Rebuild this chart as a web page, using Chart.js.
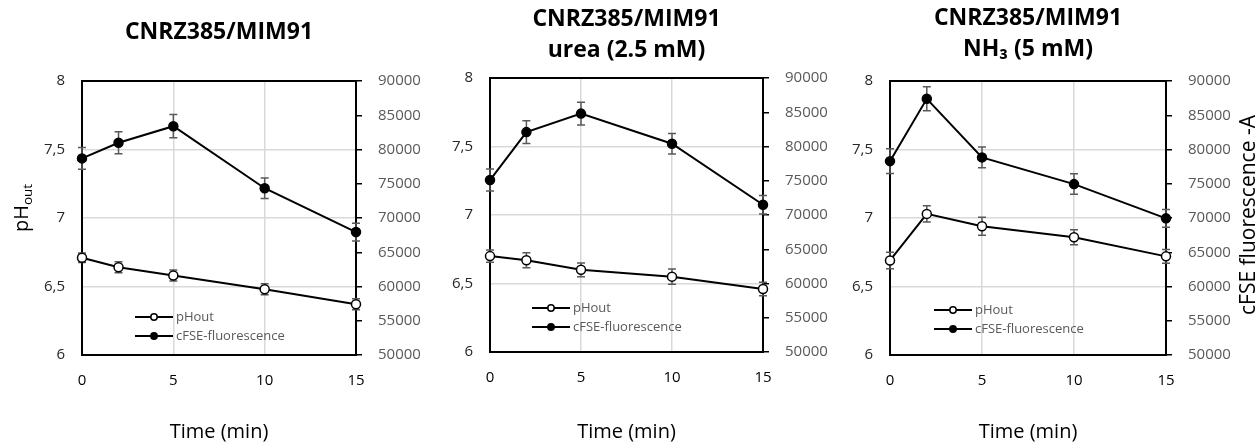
<!DOCTYPE html>
<html>
<head>
<meta charset="utf-8">
<script src="https://cdn.jsdelivr.net/npm/chart.js@4.4.1/dist/chart.umd.min.js"></script>
<style>
  html, body { margin: 0; padding: 0; background: #fff; }
  #wrap { position: relative; width: 1258px; height: 448px; }
  #wrap canvas { position: absolute; top: 0; }
</style>
</head>
<body>
<div id="wrap">
  <canvas id="c1" width="420" height="448" style="left:0"></canvas>
  <canvas id="c2" width="420" height="448" style="left:420px"></canvas>
  <canvas id="c3" width="420" height="448" style="left:838px"></canvas>
</div>
<script>
// time points (min)
const times = [0, 2, 5, 10, 15];
const xTicks = [0, 5, 10, 15];

// CNRZ385/MIM91
const ph1 = [6.71, 6.64, 6.58, 6.48, 6.37];
const ph1Err = [0.035, 0.04, 0.04, 0.04, 0.04];
const fl1 = [78700, 80980, 83400, 74350, 67950];
const fl1Err = [1600, 1600, 1700, 1500, 1300];

// CNRZ385/MIM91 urea (2.5 mM)
const ph2 = [6.70, 6.67, 6.60, 6.55, 6.46];
const ph2Err = [0.045, 0.055, 0.05, 0.055, 0.05];
const fl2 = [75100, 82100, 84800, 80400, 71500];
const fl2Err = [1600, 1650, 1650, 1500, 1350];

// CNRZ385/MIM91 NH3 (5 mM)
const ph3 = [6.69, 7.03, 6.94, 6.86, 6.72];
const ph3Err = [0.06, 0.06, 0.065, 0.055, 0.05];
const fl3 = [78300, 87400, 78850, 74950, 69950];
const fl3Err = [1800, 1750, 1500, 1500, 1300];

Chart.defaults.font.family = "'Open Sans', 'DejaVu Sans', sans-serif";
Chart.defaults.animation = false;

const seriesNames = ['pHout', 'cFSE-fluorescence'];

const panels = [
  { id: 'c1', title: 'CNRZ385/MIM91', ph: ph1, phErr: ph1Err, fl: fl1, flErr: fl1Err,
    leftW: 82, rightW: 64, bottomH: 93, titlePad: { top: 16.5, bottom: 33.5 },
    legend: { x: 53, y: -38 }, leftTitle: true, rightTitle: false },
  { id: 'c2', title: ['CNRZ385/MIM91', 'urea (2.5 mM)'], ph: ph2, phErr: ph2Err, fl: fl2, flErr: fl2Err,
    leftW: 70, rightW: 77, bottomH: 96, titlePad: { top: 3.5, bottom: 12.5 },
    legend: { x: 42, y: -44 }, leftTitle: false, rightTitle: false },
  { id: 'c3', title: ['CNRZ385/MIM91', 'NH\u2083 (5 mM)'], ph: ph3, phErr: ph3Err, fl: fl3, flErr: fl3Err,
    leftW: 52, rightW: 92, bottomH: 93, titlePad: { top: 2.5, bottom: 16.5 },
    legend: { x: 44, y: -45 }, leftTitle: false, rightTitle: true }
];

// frame round the plot area
const frame = {
  id: 'frame',
  beforeDatasetsDraw(chart) {
    const { ctx, chartArea: a } = chart;
    ctx.save();
    ctx.strokeStyle = '#000';
    ctx.lineWidth = 2;
    ctx.strokeRect(a.left, a.top, a.right - a.left, a.bottom - a.top);
    ctx.restore();
  }
};

// error bars from dataset.errors
const errorBars = {
  id: 'errorBars',
  beforeDatasetsDraw(chart) {
    const ctx = chart.ctx;
    ctx.save();
    ctx.strokeStyle = '#595959';
    ctx.lineWidth = 1.5;
    chart.data.datasets.forEach((ds) => {
      const ys = chart.scales[ds.yAxisID];
      const xs = chart.scales.x;
      ds.data.forEach((pt, j) => {
        const x = xs.getPixelForValue(pt.x);
        const lo = ys.getPixelForValue(pt.y - ds.errors[j]);
        const hi = ys.getPixelForValue(pt.y + ds.errors[j]);
        ctx.beginPath();
        ctx.moveTo(x, lo); ctx.lineTo(x, hi);
        ctx.moveTo(x - 4, lo); ctx.lineTo(x + 4, lo);
        ctx.moveTo(x - 4, hi); ctx.lineTo(x + 4, hi);
        ctx.stroke();
      });
    });
    ctx.restore();
  }
};

function makeExtras(p) {
  return {
    id: 'extras',
    afterDraw(chart) {
      const { ctx, chartArea: a } = chart;
      ctx.save();
      // legend inside plot
      const lx = a.left + p.legend.x;
      chart.data.datasets.forEach((ds, i) => {
        const ly = a.bottom + p.legend.y + i * 19;
        ctx.strokeStyle = '#000';
        ctx.lineWidth = 2;
        ctx.beginPath();
        ctx.moveTo(lx, ly); ctx.lineTo(lx + 38, ly);
        ctx.stroke();
        ctx.beginPath();
        ctx.arc(lx + 19, ly, 3.2, 0, Math.PI * 2);
        ctx.fillStyle = ds.pointBackgroundColor;
        ctx.fill();
        ctx.lineWidth = 1.5;
        ctx.stroke();
        ctx.fillStyle = '#595959';
        ctx.font = "13px 'Open Sans'";
        ctx.textBaseline = 'middle';
        ctx.textAlign = 'left';
        ctx.fillText(ds.label, lx + 41, ly);
      });
      ctx.fillStyle = '#000';
      const cy = (a.top + a.bottom) / 2;
      if (p.leftTitle) {
        ctx.translate(21, cy - 10);
        ctx.rotate(-Math.PI / 2);
        ctx.font = "20px 'Open Sans'";
        const w1 = ctx.measureText('pH').width;
        ctx.font = "13.5px 'Open Sans'";
        const w2 = ctx.measureText('out').width;
        const x0 = -(w1 + w2) / 2;
        ctx.textBaseline = 'alphabetic';
        ctx.textAlign = 'left';
        ctx.font = "20px 'Open Sans'";
        ctx.fillText('pH', x0, 7);
        ctx.font = "13.5px 'Open Sans'";
        ctx.fillText('out', x0 + w1, 11);
      }
      if (p.rightTitle) {
        ctx.translate(411, cy - 3);
        ctx.rotate(-Math.PI / 2);
        ctx.font = "21px 'Open Sans'";
        ctx.textAlign = 'center';
        ctx.textBaseline = 'middle';
        ctx.fillText('cFSE fluorescence -A', 0, 0);
      }
      ctx.restore();
    }
  };
}

panels.forEach((p) => {
  const data = {
    datasets: [
      {
        label: seriesNames[0],
        data: times.map((t, i) => ({ x: t, y: p.ph[i] })),
        errors: p.phErr,
        yAxisID: 'y',
        borderColor: '#000',
        borderWidth: 2,
        pointRadius: 4.5,
        pointBorderWidth: 1.5,
        pointBackgroundColor: '#fff',
        pointBorderColor: '#000',
        clip: false
      },
      {
        label: seriesNames[1],
        data: times.map((t, i) => ({ x: t, y: p.fl[i] })),
        errors: p.flErr,
        yAxisID: 'y2',
        borderColor: '#000',
        borderWidth: 2,
        pointRadius: 4.5,
        pointBorderWidth: 1.5,
        pointBackgroundColor: '#000',
        pointBorderColor: '#000',
        clip: false
      }
    ]
  };

  new Chart(document.getElementById(p.id), {
    type: 'line',
    data: data,
    options: {
      responsive: false,
      layout: { padding: 0 },
      scales: {
        x: {
          type: 'linear',
          min: 0,
          max: 15,
          afterBuildTicks: (s) => { s.ticks = xTicks.map(v => ({ value: v })); },
          ticks: { color: '#000', font: { size: 15 }, padding: 17 },
          grid: { color: '#d9d9d9', lineWidth: 1.5, drawTicks: false },
          border: { display: false },
          title: { display: true, text: 'Time (min)', color: '#000', font: { size: 20 }, padding: { top: 0, bottom: 4 } },
          afterFit: (s) => { s.height = p.bottomH; }
        },
        y: {
          position: 'left',
          min: 6,
          max: 8,
          ticks: { stepSize: 0.5, color: '#262626', font: { size: 15 }, padding: 17,
                   callback: (v) => String(v).replace('.', ',') },
          grid: { color: '#d9d9d9', lineWidth: 1.5, drawTicks: false },
          border: { display: false },
          afterFit: (s) => { s.width = p.leftW; }
        },
        y2: {
          position: 'right',
          min: 50000,
          max: 90000,
          ticks: { stepSize: 5000, color: '#595959', font: { size: 15 }, padding: 16,
                   callback: (v) => String(v) },
          grid: { drawOnChartArea: false, drawTicks: true, tickLength: 6, color: '#000', lineWidth: 1.5 },
          border: { display: false },
          afterFit: (s) => { s.width = p.rightW; }
        }
      },
      plugins: {
        legend: { display: false },
        tooltip: { enabled: false },
        title: {
          display: true,
          text: p.title,
          fullSize: false,
          color: '#000',
          font: { size: 23, weight: 'bold', lineHeight: '31px' },
          padding: p.titlePad
        }
      }
    },
    plugins: [frame, errorBars, makeExtras(p)]
  });
});
</script>
</body>
</html>
